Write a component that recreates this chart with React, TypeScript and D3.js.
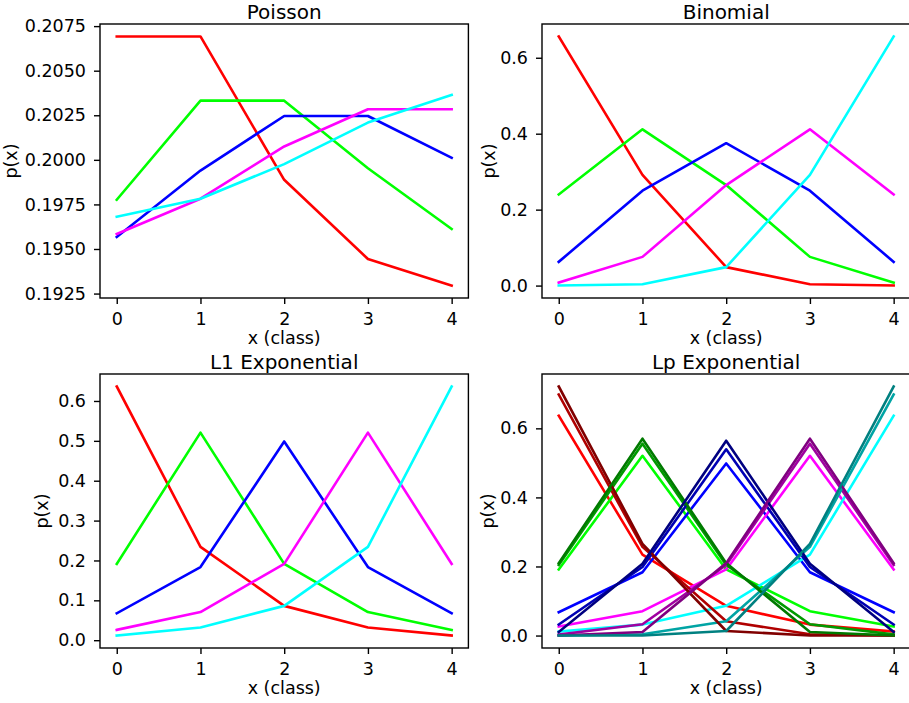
import React, { useEffect, useRef } from 'react';
import * as d3 from 'd3';

const xs = [0, 1, 2, 3, 4];
const xTicks = [0, 1, 2, 3, 4];

const brightColors = ['#ff0000', '#00ff00', '#0000ff', '#ff00ff', '#00ffff'];
const mediumColors = ['#b00000', '#009a00', '#0000b4', '#a000a0', '#00a4a4'];
const darkColors = ['#800000', '#007a00', '#000080', '#800080', '#008080'];

// Poisson, one row per class
const poisson = [
  [0.20692, 0.20692, 0.19888, 0.19444, 0.19295],
  [0.19776, 0.20332, 0.20332, 0.19953, 0.19612],
  [0.19567, 0.1994, 0.20246, 0.20246, 0.20011],
  [0.19584, 0.19782, 0.20075, 0.20284, 0.20284],
  [0.19681, 0.19782, 0.19976, 0.20209, 0.20364],
];

const binomial = [
  [0.6561, 0.2916, 0.0486, 0.0036, 0.0001],
  [0.2401, 0.4116, 0.2646, 0.0756, 0.0081],
  [0.0625, 0.25, 0.375, 0.25, 0.0625],
  [0.0081, 0.0756, 0.2646, 0.4116, 0.2401],
  [0.0001, 0.0036, 0.0486, 0.2916, 0.6561],
];

const l1Exp = [
  [0.6364, 0.2341, 0.0861, 0.0317, 0.0117],
  [0.1915, 0.5206, 0.1915, 0.0705, 0.0259],
  [0.0675, 0.1834, 0.4984, 0.1834, 0.0675],
  [0.0259, 0.0705, 0.1915, 0.5206, 0.1915],
  [0.0117, 0.0317, 0.0861, 0.2341, 0.6364],
];

const lp15Exp = [
  [0.6979, 0.2567, 0.0413, 0.0039, 0.0002],
  [0.2043, 0.5554, 0.2043, 0.0328, 0.0031],
  [0.0319, 0.1984, 0.5394, 0.1984, 0.0319],
  [0.0031, 0.0328, 0.2043, 0.5554, 0.2043],
  [0.0002, 0.0039, 0.0413, 0.2567, 0.6979],
];

const lp2Exp = [
  [0.7213, 0.2654, 0.0132, 0.0001, 0.0],
  [0.2097, 0.5701, 0.2097, 0.0104, 0.0001],
  [0.0103, 0.2076, 0.5642, 0.2076, 0.0103],
  [0.0001, 0.0104, 0.2097, 0.5701, 0.2097],
  [0.0, 0.0001, 0.0132, 0.2654, 0.7213],
];

const poissonTicks = [0.1925, 0.195, 0.1975, 0.2, 0.2025, 0.205, 0.2075];
const binomialTicks = [0, 0.2, 0.4, 0.6];
const l1Ticks = [0, 0.1, 0.2, 0.3, 0.4, 0.5, 0.6];
const lpTicks = [0, 0.2, 0.4, 0.6];

const FONT = '"DejaVu Sans", sans-serif';

export default function App() {
  const svgRef = useRef(null);

  useEffect(() => {
    const svg = d3.select(svgRef.current);
    svg.selectAll('*').remove();

    const panelW = 368.4;
    const panelH = 274;

    const panels = [
      { title: 'Poisson', sets: [{ rows: poisson, colors: brightColors }], ticks: poissonTicks, fmt: d3.format('.4f'), left: 100, top: 24, ylabelX: 17 },
      { title: 'Binomial', sets: [{ rows: binomial, colors: brightColors }], ticks: binomialTicks, fmt: d3.format('.1f'), left: 542, top: 24, ylabelX: 495 },
      { title: 'L1 Exponential', sets: [{ rows: l1Exp, colors: brightColors }], ticks: l1Ticks, fmt: d3.format('.1f'), left: 100, top: 374, ylabelX: 48 },
      {
        title: 'Lp Exponential',
        sets: [
          { rows: l1Exp, colors: brightColors },
          { rows: lp15Exp, colors: mediumColors },
          { rows: lp2Exp, colors: darkColors },
        ],
        ticks: lpTicks, fmt: d3.format('.1f'), left: 542, top: 374, ylabelX: 494,
      },
    ];

    panels.forEach(p => {
      const g = svg.append('g').attr('transform', `translate(${p.left},${p.top})`);

      const x = d3.scaleLinear().domain([-0.2, 4.2]).range([0, panelW]);

      const all = p.sets.flatMap(s => s.rows.flat());
      const [lo, hi] = d3.extent(all);
      const pad = (hi - lo) * 0.05;
      const y = d3.scaleLinear().domain([lo - pad, hi + pad]).range([panelH, 0]);

      // lines
      const line = d3.line().x((d, i) => x(xs[i])).y(d => y(d));
      p.sets.forEach(s => {
        s.rows.forEach((row, i) => {
          g.append('path')
            .datum(row)
            .attr('fill', 'none')
            .attr('stroke', s.colors[i])
            .attr('stroke-width', 2.6)
            .attr('stroke-linejoin', 'round')
            .attr('stroke-linecap', 'square')
            .attr('d', line);
        });
      });

      // frame
      g.append('rect')
        .attr('width', panelW)
        .attr('height', panelH)
        .attr('fill', 'none')
        .attr('stroke', '#000')
        .attr('stroke-width', 1.4);

      // axes
      const xAxis = g.append('g')
        .attr('transform', `translate(0,${panelH})`)
        .call(d3.axisBottom(x).tickValues(xTicks).tickSize(6).tickPadding(9).tickFormat(d3.format('d')));
      const yAxis = g.append('g')
        .call(d3.axisLeft(y).tickValues(p.ticks).tickSize(6).tickPadding(8).tickFormat(p.fmt));

      [xAxis, yAxis].forEach(a => {
        a.select('.domain').remove();
        a.selectAll('.tick line').attr('stroke', '#000').attr('stroke-width', 1.4);
        a.selectAll('.tick text')
          .attr('fill', '#000')
          .style('font-family', FONT)
          .style('font-size', '17.5px');
      });

      // title
      g.append('text')
        .attr('x', panelW / 2)
        .attr('y', -5)
        .attr('text-anchor', 'middle')
        .style('font-family', FONT)
        .style('font-size', '20px')
        .attr('fill', '#000')
        .text(p.title);

      // x label
      g.append('text')
        .attr('x', panelW / 2)
        .attr('y', panelH + 46)
        .attr('text-anchor', 'middle')
        .style('font-family', FONT)
        .style('font-size', '17.5px')
        .attr('fill', '#000')
        .text('x (class)');

      // y label
      svg.append('text')
        .attr('transform', `translate(${p.ylabelX},${p.top + panelH / 2}) rotate(-90)`)
        .attr('text-anchor', 'middle')
        .style('font-family', FONT)
        .style('font-size', '17.5px')
        .attr('fill', '#000')
        .text('p(x)');
    });
  }, []);

  return (
    <div style={{ position: 'absolute', left: 0, top: 0, width: 909, height: 703, overflow: 'hidden', background: '#fff' }}>
      <svg ref={svgRef} width={909} height={703} style={{ display: 'block' }}></svg>
    </div>
  );
}
